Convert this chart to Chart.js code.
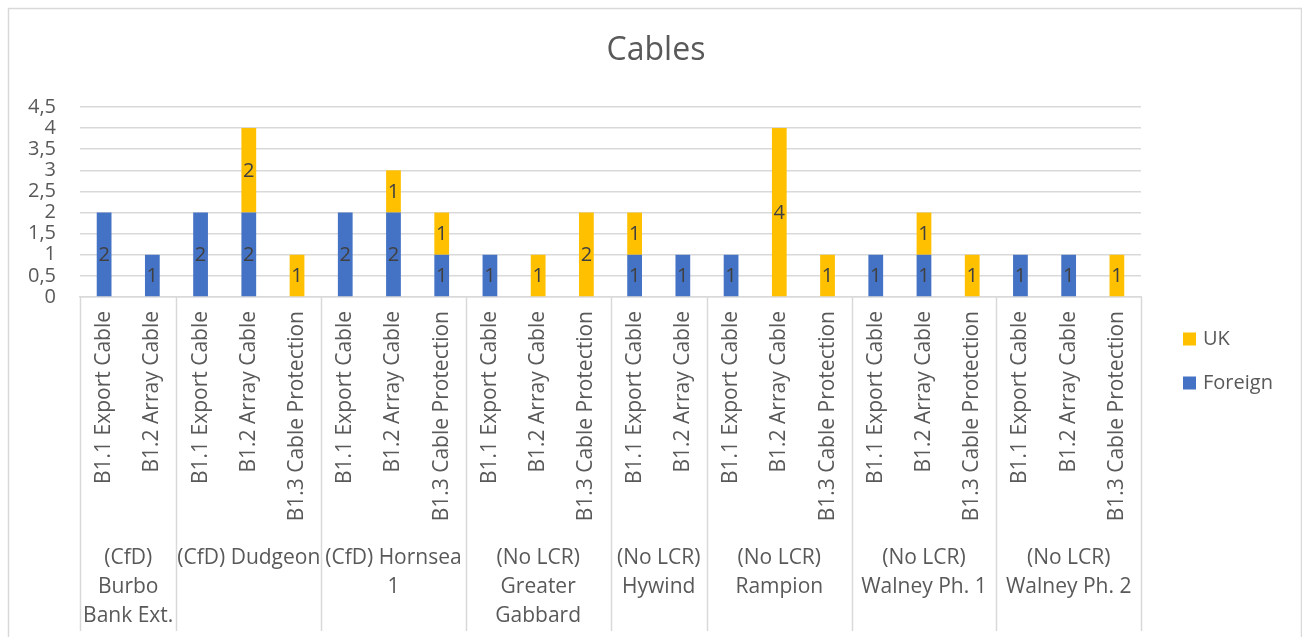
<!DOCTYPE html>
<html>
<head>
<meta charset="utf-8">
<script src="https://cdn.jsdelivr.net/npm/chart.js@4/dist/chart.umd.min.js"></script>
<style>
  html, body { margin: 0; padding: 0; background: #ffffff; }
  #wrap { width: 1302px; height: 637px; position: relative; }
</style>
</head>
<body>
<div id="wrap"><canvas id="c"></canvas></div>
<script>
// ---- data ----
const title = "Cables";
const categories = [
  "B1.1 Export Cable", "B1.2 Array Cable",
  "B1.1 Export Cable", "B1.2 Array Cable", "B1.3 Cable Protection",
  "B1.1 Export Cable", "B1.2 Array Cable", "B1.3 Cable Protection",
  "B1.1 Export Cable", "B1.2 Array Cable", "B1.3 Cable Protection",
  "B1.1 Export Cable", "B1.2 Array Cable",
  "B1.1 Export Cable", "B1.2 Array Cable", "B1.3 Cable Protection",
  "B1.1 Export Cable", "B1.2 Array Cable", "B1.3 Cable Protection",
  "B1.1 Export Cable", "B1.2 Array Cable", "B1.3 Cable Protection"
];
const groupLabels = [
  ["(CfD)", "Burbo", "Bank Ext."],
  ["(CfD) Dudgeon"],
  ["(CfD) Hornsea", "1"],
  ["(No LCR)", "Greater", "Gabbard"],
  ["(No LCR)", "Hywind"],
  ["(No LCR)", "Rampion"],
  ["(No LCR)", "Walney Ph. 1"],
  ["(No LCR)", "Walney Ph. 2"]
];
const groupSizes = [2, 3, 3, 3, 2, 3, 3, 3];
const foreignValues = [2, 1, 2, 2, null, 2, 2, 1, 1, null, null, 1, 1, 1, null, null, 1, 1, null, 1, 1, null];
const ukValues      = [null, null, null, 2, 1, null, 1, 1, null, 1, 2, 1, null, null, 4, 1, null, 1, 1, null, null, 1];
const seriesNames = ["Foreign", "UK"];
const yTickLabels = ["0", "0,5", "1", "1,5", "2", "2,5", "3", "3,5", "4", "4,5"];

// ---- style ----
const FONT = "'Open Sans', 'Noto Sans', sans-serif";
const TEXT = "#595959";
const GRID = "#D9D9D9";
const BLUE = "#4472C4";
const YELLOW = "#FFC000";

const bgPlugin = {
  id: 'bg',
  beforeDraw(chart) {
    const ctx = chart.ctx;
    ctx.save();
    ctx.fillStyle = '#ffffff';
    ctx.fillRect(0, 0, chart.width, chart.height);
    ctx.strokeStyle = GRID;
    ctx.lineWidth = 1.5;
    ctx.strokeRect(8.5, 8.5, chart.width - 9, chart.height + 20);
    ctx.restore();
  }
};

const decoPlugin = {
  id: 'deco',
  afterDraw(chart) {
    const ctx = chart.ctx;
    const ca = chart.chartArea;
    ctx.save();
    // title
    ctx.fillStyle = TEXT;
    ctx.font = "32px " + FONT;
    ctx.textAlign = 'center';
    ctx.textBaseline = 'middle';
    ctx.fillText(title, 656, 51);

    // group separators and labels
    const n = categories.length;
    const step = (ca.right - ca.left) / n;
    ctx.strokeStyle = GRID;
    ctx.lineWidth = 1.5;
    let idx = 0;
    const bounds = [0];
    groupSizes.forEach(s => { idx += s; bounds.push(idx); });
    bounds.forEach(b => {
      const x = Math.round(ca.left + b * step) + 0.5;
      ctx.beginPath();
      ctx.moveTo(x, ca.bottom);
      ctx.lineTo(x, 631);
      ctx.stroke();
    });
    ctx.font = "21px " + FONT;
    ctx.fillStyle = TEXT;
    ctx.textAlign = 'center';
    ctx.textBaseline = 'middle';
    for (let g = 0; g < groupSizes.length; g++) {
      const cx = ca.left + (bounds[g] + bounds[g + 1]) / 2 * step;
      groupLabels[g].forEach((line, li) => {
        ctx.fillText(line, cx, 558 + li * 29);
      });
    }

    // data labels
    ctx.font = "20px " + FONT;
    ctx.fillStyle = "#404040";
    chart.data.datasets.forEach((ds, di) => {
      const meta = chart.getDatasetMeta(di);
      meta.data.forEach((bar, j) => {
        const v = ds.data[j];
        if (v === null || v === 0) return;
        const cy = (bar.y + bar.base) / 2;
        ctx.fillText(String(v), bar.x, cy + 1);
      });
    });

    // legend
    const legendItems = [
      { label: seriesNames[1], color: YELLOW, y: 339 },
      { label: seriesNames[0], color: BLUE, y: 383 }
    ];
    ctx.textAlign = 'left';
    ctx.font = "20px " + FONT;
    legendItems.forEach(it => {
      ctx.fillStyle = it.color;
      ctx.fillRect(1183, it.y - 6.5, 13, 13);
      ctx.fillStyle = TEXT;
      ctx.fillText(it.label, 1203, it.y);
    });
    ctx.restore();
  }
};

new Chart(document.getElementById('c'), {
  type: 'bar',
  data: {
    labels: categories,
    datasets: [
      { label: seriesNames[0], data: foreignValues, backgroundColor: BLUE, barPercentage: 0.6, categoryPercentage: 0.51 },
      { label: seriesNames[1], data: ukValues, backgroundColor: YELLOW, barPercentage: 0.6, categoryPercentage: 0.51 }
    ]
  },
  options: {
    responsive: true,
    maintainAspectRatio: false,
    animation: false,
    devicePixelRatio: 1,
    layout: { padding: { left: 8, right: 161, top: 107, bottom: 0 } },
    plugins: {
      legend: { display: false },
      title: { display: false },
      tooltip: { enabled: false }
    },
    scales: {
      x: {
        stacked: true,
        grid: { display: false, drawTicks: false },
        border: { display: true, color: GRID, width: 1.5 },
        ticks: {
          autoSkip: false,
          maxRotation: 90,
          minRotation: 90,
          padding: 14,
          color: TEXT,
          font: { family: FONT, size: 21 }
        },
        afterFit(scale) { scale.height = 340; }
      },
      y: {
        stacked: true,
        min: 0,
        max: 4.5,
        grid: { color: GRID, lineWidth: 1.5, drawTicks: false },
        border: { display: false },
        ticks: {
          stepSize: 0.5,
          autoSkip: false,
          padding: 24,
          color: TEXT,
          font: { family: FONT, size: 20 },
          callback: (v, i) => yTickLabels[i]
        },
        afterFit(scale) { scale.width = 72; }
      }
    }
  },
  plugins: [bgPlugin, decoPlugin]
});
</script>
</body>
</html>
